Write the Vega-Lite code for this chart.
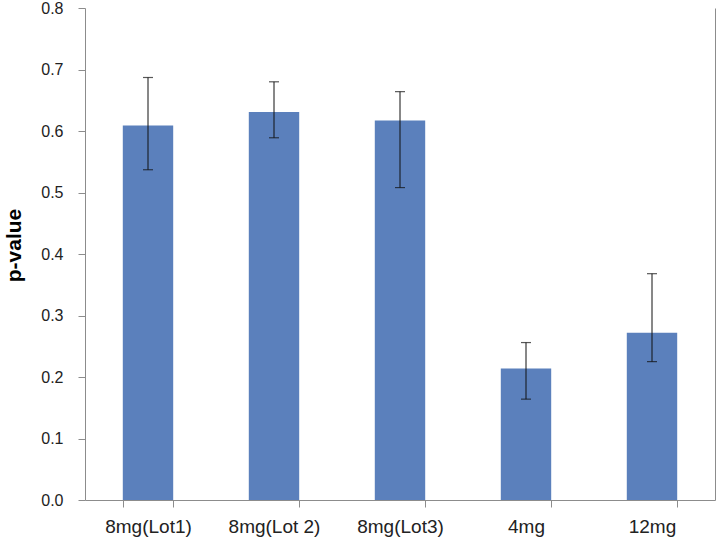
{
  "$schema": "https://vega.github.io/schema/vega-lite/v6.json",
  "width": 630,
  "height": 492,
  "autosize": {"type": "none"},
  "padding": {"left": 85, "top": 8, "right": 2, "bottom": 40},
  "background": "white",
  "config": {
    "view": {"stroke": null},
    "font": "Liberation Sans",
    "axis": {
      "domainColor": "#8c8c8c",
      "tickColor": "#8c8c8c",
      "labelFont": "Liberation Sans",
      "labelColor": "#222222",
      "titleFont": "Liberation Sans",
      "grid": false
    }
  },
  "data": {
    "values": [
      {"group": "8mg(Lot1)", "p": 0.609, "lo": 0.537, "hi": 0.687},
      {"group": "8mg(Lot 2)", "p": 0.631, "lo": 0.589, "hi": 0.680},
      {"group": "8mg(Lot3)", "p": 0.617, "lo": 0.508, "hi": 0.664},
      {"group": "4mg", "p": 0.214, "lo": 0.164, "hi": 0.256},
      {"group": "12mg", "p": 0.272, "lo": 0.225, "hi": 0.368}
    ]
  },
  "encoding": {
    "x": {
      "field": "group",
      "type": "nominal",
      "sort": null,
      "scale": {"paddingInner": 0.6, "paddingOuter": 0.3},
      "axis": {
        "title": null,
        "labelAngle": 0,
        "tickBand": "extent",
        "tickSize": 7,
        "labelPadding": 10,
        "labelFontSize": 19
      }
    }
  },
  "layer": [
    {
      "mark": {"type": "bar", "color": "#5B80BC"},
      "encoding": {
        "y": {
          "field": "p",
          "type": "quantitative",
          "scale": {"domain": [0, 0.8], "nice": false},
          "axis": {
            "title": "p-value",
            "titleFontSize": 21,
            "titleFontWeight": "bold",
            "titleColor": "#000000",
            "titlePadding": 16,
            "titleY": 237,
            "format": ".1f",
            "values": [0, 0.1, 0.2, 0.3, 0.4, 0.5, 0.6, 0.7, 0.8],
            "labelOverlap": false,
            "tickSize": 7,
            "labelPadding": 15,
            "labelFontSize": 16
          }
        }
      }
    },
    {
      "mark": {"type": "rule", "color": "#111111", "strokeWidth": 1},
      "encoding": {
        "y": {
          "field": "lo",
          "type": "quantitative",
          "axis": {
            "orient": "right",
            "labels": false,
            "ticks": false,
            "title": null,
            "domain": true
          }
        },
        "y2": {"field": "hi"}
      }
    },
    {
      "mark": {"type": "tick", "color": "#111111", "size": 10, "thickness": 1.2},
      "encoding": {"y": {"field": "lo", "type": "quantitative", "axis": null}}
    },
    {
      "mark": {"type": "tick", "color": "#111111", "size": 10, "thickness": 1.2},
      "encoding": {"y": {"field": "hi", "type": "quantitative", "axis": null}}
    }
  ],
  "resolve": {"axis": {"y": "independent"}}
}
